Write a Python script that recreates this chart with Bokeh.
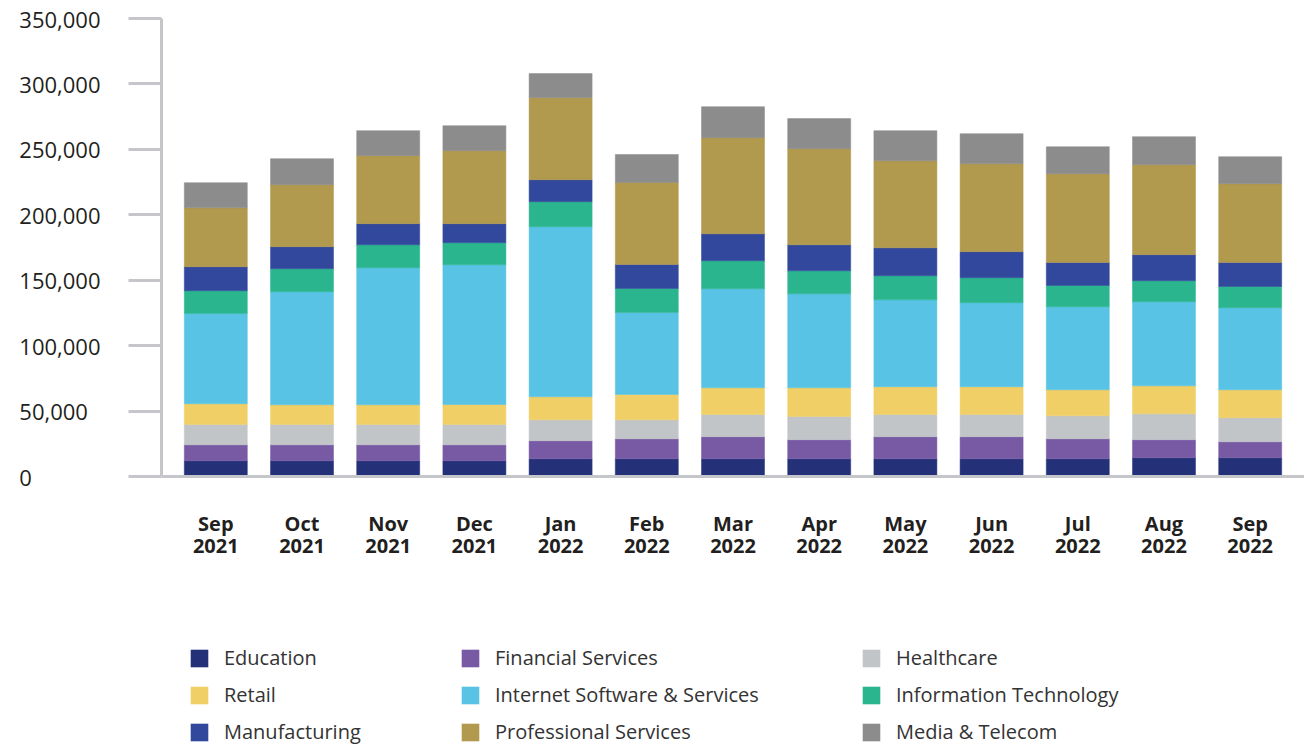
from bokeh.plotting import figure
from bokeh.layouts import column
from bokeh.models import (Range1d, FactorRange, FixedTicker, NumeralTickFormatter,
                          Legend, LegendItem, ColumnDataSource)
from bokeh.embed import file_html
from bokeh.resources import INLINE

months = ["Sep\n2021", "Oct\n2021", "Nov\n2021", "Dec\n2021", "Jan\n2022", "Feb\n2022",
          "Mar\n2022", "Apr\n2022", "May\n2022", "Jun\n2022", "Jul\n2022", "Aug\n2022",
          "Sep\n2022"]

sector_names = ["Education", "Financial Services", "Healthcare", "Retail",
                "Internet Software & Services", "Information Technology",
                "Manufacturing", "Professional Services", "Media & Telecom"]
keys = ["edu", "fin", "health", "retail", "internet", "it", "manuf", "prof", "media"]

edu      = [12000, 12000, 12000, 12000, 13500, 13500, 13500, 13500, 13500, 13500, 13500, 14300, 14300]
fin      = [12200, 12200, 12200, 12200, 13800, 15300, 16900, 14600, 16900, 16900, 15300, 13800, 12200]
health   = [15600, 15600, 15600, 15600, 16000, 14500, 17000, 17800, 17000, 17000, 17600, 19800, 18400]
retail   = [15800, 15000, 15000, 15200, 17600, 19400, 20400, 21900, 21200, 21200, 19900, 21400, 21400]
internet = [69000, 86400, 104800, 106800, 130000, 62700, 75700, 71800, 66400, 64200, 63400, 64300, 62700]
it       = [17400, 17600, 17500, 16900, 19100, 18300, 21400, 17600, 18400, 19100, 16300, 16000, 16200]
manuf    = [18300, 16800, 16100, 14500, 16800, 18400, 20600, 19900, 21400, 19900, 17600, 19900, 18400]
prof     = [45100, 47400, 52000, 55800, 62700, 62600, 73400, 73400, 66500, 67200, 67800, 68800, 60200]
media    = [19100, 19900, 19100, 19100, 18400, 21400, 23700, 23000, 23000, 23000, 20600, 21400, 20600]

colors = ["#243178", "#7759a4", "#c2c5c8", "#f0cf67", "#58c3e4", "#2ab58f",
          "#31489c", "#b1994d", "#8c8c8c"]

y_ticks = [0, 50000, 100000, 150000, 200000, 250000, 300000, 350000]

data = dict(month=months, edu=edu, fin=fin, health=health, retail=retail,
            internet=internet, it=it, manuf=manuf, prof=prof, media=media)
source = ColumnDataSource(data)

AXIS_GRAY = "#c4c6c9"
TEXT = "#231f20"
W = 1304
H_MAIN = 600
H_LEG = 145

# ---------------- main chart ----------------
p = figure(x_range=FactorRange(*months, range_padding=0.13, range_padding_units="absolute"),
           y_range=Range1d(0, 350000), width=W, height=H_MAIN,
           output_backend="svg", toolbar_location=None,
           min_border_left=161, min_border_right=0, min_border_top=18,
           min_border_bottom=H_MAIN - 476)

renderers = p.vbar_stack(keys, x="month", width=0.731, source=source,
                         fill_color=colors, line_color=colors, line_width=0.5)

p.grid.visible = False
p.outline_line_color = None

xa = p.xaxis[0]
xa.axis_line_color = AXIS_GRAY
xa.axis_line_width = 3
xa.major_tick_line_color = None
xa.minor_tick_line_color = None
xa.major_label_text_font = "Open Sans"
xa.major_label_text_font_style = "bold"
xa.major_label_text_font_size = "20px"
xa.major_label_text_color = TEXT
xa.major_label_text_line_height = 0.85
xa.major_label_standoff = 27

# left-align tick labels by padding to the width of "350,000" with figure/punctuation spaces
def padded(v):
    s = f"{v:,}"
    ref = f"{max(y_ticks):,}"
    digits_missing = sum(c.isdigit() for c in ref) - sum(c.isdigit() for c in s)
    commas_missing = ref.count(",") - s.count(",")
    return s + "\u2007" * digits_missing + "\u2008" * commas_missing

ya = p.yaxis[0]
ya.ticker = FixedTicker(ticks=y_ticks)
ya.formatter = NumeralTickFormatter(format="0,0")
ya.major_label_overrides = {v: padded(v) for v in y_ticks}
ya.axis_line_color = AXIS_GRAY
ya.axis_line_width = 3
ya.major_tick_line_color = AXIS_GRAY
ya.major_tick_line_width = 3
ya.major_tick_out = 33
ya.major_tick_in = 0
ya.minor_tick_line_color = None
ya.major_label_text_font = "Open Sans"
ya.major_label_text_font_size = "22px"
ya.major_label_text_color = TEXT
ya.major_label_standoff = 28

# ---------------- legend panel ----------------
pl = figure(x_range=FactorRange(*months), y_range=Range1d(-1000000, -500000),
            width=W, height=H_LEG,
            output_backend="svg", toolbar_location=None,
            x_axis_location=None, y_axis_location=None, min_border=0)
pl.grid.visible = False
pl.outline_line_color = None
leg_renderers = pl.vbar_stack(keys, x="month", width=0.73, source=ColumnDataSource(data),
                              fill_color=colors, line_color=None)
for r in leg_renderers:
    r.visible = False  # these only supply the legend swatches

columns = [[0, 3, 6], [1, 4, 7], [2, 5, 8]]
col_x = [27, 298, 699]
for cx, col in zip(col_x, columns):
    leg = Legend(items=[LegendItem(label=sector_names[i], renderers=[leg_renderers[i]]) for i in col],
                 location=(cx, 0), orientation="vertical",
                 glyph_width=22, glyph_height=22, label_height=27, label_standoff=14,
                 spacing=10, padding=0, margin=0,
                 border_line_color=None, background_fill_alpha=0,
                 label_text_font="Open Sans", label_text_font_size="20px",
                 label_text_color="#333333")
    pl.add_layout(leg)

open("out.html", "w").write(file_html(column(p, pl), INLINE))
